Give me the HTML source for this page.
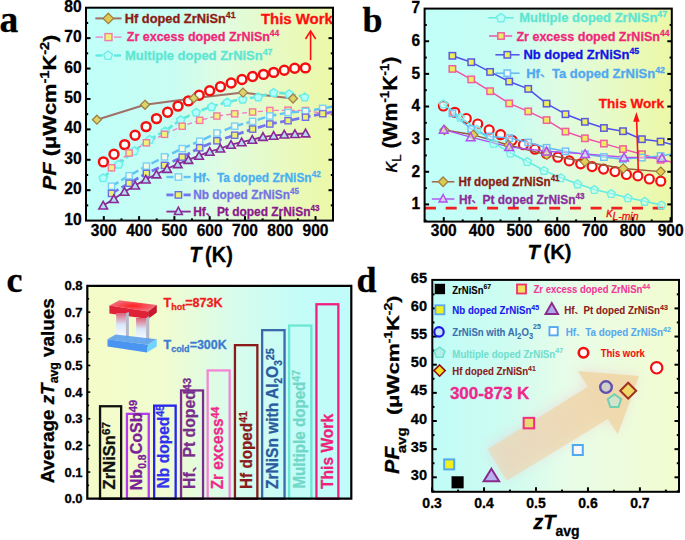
<!DOCTYPE html>
<html><head><meta charset="utf-8"><style>
html,body{margin:0;padding:0;background:#fff;width:685px;height:540px;overflow:hidden}
svg{display:block} text{white-space:pre}
</style></head><body>
<svg xml:space="preserve" width="685" height="540" viewBox="0 0 685 540">
<rect width="685" height="540" fill="#fff"/>
<defs>
<linearGradient id="ga" x1="0" x2="1" y1="0" y2="0"><stop offset="0" stop-color="#c0fff9"/><stop offset="0.35" stop-color="#c8fdf2"/><stop offset="0.55" stop-color="#e0fce2"/><stop offset="0.8" stop-color="#e8fac0"/><stop offset="1" stop-color="#ecf8a6"/></linearGradient>
<linearGradient id="gb" x1="0" x2="1" y1="0" y2="0"><stop offset="0" stop-color="#c0fff9"/><stop offset="0.35" stop-color="#c8fdf2"/><stop offset="0.55" stop-color="#e0fce2"/><stop offset="0.8" stop-color="#e8fac0"/><stop offset="1" stop-color="#ecf8a6"/></linearGradient>
<linearGradient id="gc" x1="0" x2="1" y1="0" y2="0"><stop offset="0" stop-color="#f4fcc8"/><stop offset="0.3" stop-color="#f0fcd0"/><stop offset="0.55" stop-color="#d8fcec"/><stop offset="0.8" stop-color="#c4fcf8"/><stop offset="1" stop-color="#c0fcfa"/></linearGradient>
<linearGradient id="gd" x1="0" x2="1" y1="0" y2="0"><stop offset="0" stop-color="#c0fcf8"/><stop offset="0.3" stop-color="#cefcf0"/><stop offset="0.55" stop-color="#e8fce8"/><stop offset="1" stop-color="#f2fcd0"/></linearGradient>
<linearGradient id="leg" x1="0" x2="0" y1="0" y2="1"><stop offset="0" stop-color="#e06078"/><stop offset="0.45" stop-color="#d8e8fa"/><stop offset="1" stop-color="#ffffff"/></linearGradient>
<radialGradient id="hot" cx="0.5" cy="0.5" r="0.5"><stop offset="0" stop-color="#ff2020"/><stop offset="1" stop-color="#f07080"/></radialGradient>
<linearGradient id="arw" gradientUnits="userSpaceOnUse" x1="497" y1="465" x2="625" y2="385"><stop offset="0" stop-color="#ecd6b0" stop-opacity="0.6"/><stop offset="1" stop-color="#f0d6a2" stop-opacity="0.85"/></linearGradient>
<filter id="soft" x="-5%" y="-5%" width="110%" height="110%"><feGaussianBlur stdDeviation="0.45"/></filter>
<filter id="blur" x="-20%" y="-20%" width="140%" height="140%"><feGaussianBlur stdDeviation="6"/></filter>
<clipPath id="ca"><rect x="86" y="7.7" width="247" height="212.9"/></clipPath>
<clipPath id="cb"><rect x="424.6" y="8.6" width="247.2" height="213"/></clipPath>
<clipPath id="cd"><rect x="432.3" y="279.9" width="246.7" height="211.9"/></clipPath>
</defs>
<rect x="86" y="7.7" width="247" height="212.9" fill="url(#ga)"/>
<line x1="86" y1="190.19" x2="90.5" y2="190.19" stroke="#000" stroke-width="2" />
<line x1="333" y1="190.19" x2="328.5" y2="190.19" stroke="#000" stroke-width="2" />
<line x1="86" y1="159.78" x2="90.5" y2="159.78" stroke="#000" stroke-width="2" />
<line x1="333" y1="159.78" x2="328.5" y2="159.78" stroke="#000" stroke-width="2" />
<line x1="86" y1="129.37" x2="90.5" y2="129.37" stroke="#000" stroke-width="2" />
<line x1="333" y1="129.37" x2="328.5" y2="129.37" stroke="#000" stroke-width="2" />
<line x1="86" y1="98.96" x2="90.5" y2="98.96" stroke="#000" stroke-width="2" />
<line x1="333" y1="98.96" x2="328.5" y2="98.96" stroke="#000" stroke-width="2" />
<line x1="86" y1="68.55" x2="90.5" y2="68.55" stroke="#000" stroke-width="2" />
<line x1="333" y1="68.55" x2="328.5" y2="68.55" stroke="#000" stroke-width="2" />
<line x1="86" y1="38.14" x2="90.5" y2="38.14" stroke="#000" stroke-width="2" />
<line x1="333" y1="38.14" x2="328.5" y2="38.14" stroke="#000" stroke-width="2" />
<line x1="86" y1="205.39" x2="88.2" y2="205.39" stroke="#000" stroke-width="2" />
<line x1="333" y1="205.39" x2="330.8" y2="205.39" stroke="#000" stroke-width="2" />
<line x1="86" y1="174.98" x2="88.2" y2="174.98" stroke="#000" stroke-width="2" />
<line x1="333" y1="174.98" x2="330.8" y2="174.98" stroke="#000" stroke-width="2" />
<line x1="86" y1="144.57" x2="88.2" y2="144.57" stroke="#000" stroke-width="2" />
<line x1="333" y1="144.57" x2="330.8" y2="144.57" stroke="#000" stroke-width="2" />
<line x1="86" y1="114.16" x2="88.2" y2="114.16" stroke="#000" stroke-width="2" />
<line x1="333" y1="114.16" x2="330.8" y2="114.16" stroke="#000" stroke-width="2" />
<line x1="86" y1="83.75" x2="88.2" y2="83.75" stroke="#000" stroke-width="2" />
<line x1="333" y1="83.75" x2="330.8" y2="83.75" stroke="#000" stroke-width="2" />
<line x1="86" y1="53.34" x2="88.2" y2="53.34" stroke="#000" stroke-width="2" />
<line x1="333" y1="53.34" x2="330.8" y2="53.34" stroke="#000" stroke-width="2" />
<line x1="86" y1="22.94" x2="88.2" y2="22.94" stroke="#000" stroke-width="2" />
<line x1="333" y1="22.94" x2="330.8" y2="22.94" stroke="#000" stroke-width="2" />
<line x1="103.8" y1="220.6" x2="103.8" y2="216.1" stroke="#000" stroke-width="2" />
<line x1="139.09" y1="220.6" x2="139.09" y2="216.1" stroke="#000" stroke-width="2" />
<line x1="174.38" y1="220.6" x2="174.38" y2="216.1" stroke="#000" stroke-width="2" />
<line x1="209.67" y1="220.6" x2="209.67" y2="216.1" stroke="#000" stroke-width="2" />
<line x1="244.96" y1="220.6" x2="244.96" y2="216.1" stroke="#000" stroke-width="2" />
<line x1="280.25" y1="220.6" x2="280.25" y2="216.1" stroke="#000" stroke-width="2" />
<line x1="315.54" y1="220.6" x2="315.54" y2="216.1" stroke="#000" stroke-width="2" />
<line x1="121.44" y1="220.6" x2="121.44" y2="218.4" stroke="#000" stroke-width="2" />
<line x1="156.74" y1="220.6" x2="156.74" y2="218.4" stroke="#000" stroke-width="2" />
<line x1="192.02" y1="220.6" x2="192.02" y2="218.4" stroke="#000" stroke-width="2" />
<line x1="227.31" y1="220.6" x2="227.31" y2="218.4" stroke="#000" stroke-width="2" />
<line x1="262.61" y1="220.6" x2="262.61" y2="218.4" stroke="#000" stroke-width="2" />
<line x1="297.89" y1="220.6" x2="297.89" y2="218.4" stroke="#000" stroke-width="2" />
<g clip-path="url(#ca)">
<polyline points="96.9,119.7 145,104.8 193.8,98.3 243,92.6 293,98.5" fill="none" stroke="#a07068" stroke-width="2" stroke-linejoin="round" />
<polyline points="103.2,205.5 113.85,199 124.5,191.7 135.15,185.4 145.8,179.4 156.45,174.3 167.1,168.8 177.75,164.1 188.4,159.8 199.05,155.7 209.7,151.7 220.35,148.5 231,144.7 241.65,142.2 252.3,139.7 262.95,136.8 273.6,135.7 284.25,134.5 294.9,134 305.55,133.3" fill="none" stroke="#8a2a96" stroke-width="1.8" stroke-linejoin="round" />
<polyline points="111.5,193.4 129.1,183.2 146.4,173.4 164.5,165.4 182.2,157.1 199.7,147.8 216.9,140.8 234.7,135.2 252.6,129.1 269.8,124 288,120.7 305.5,117.2 322.7,113.7 333,112" fill="none" stroke="#7474ee" stroke-width="2.8" stroke-linejoin="round" stroke-dasharray="8 3.5" />
<polyline points="111.5,186.2 129.1,175.7 146.4,166.1 164.5,156.9 182.2,148.6 199.7,141.2 216.9,133 234.7,126.2 252.6,121.4 269.8,116 288,112.5 305.5,111.4 322.7,108.4 333,106.5" fill="none" stroke="#62c4f4" stroke-width="2.4" stroke-linejoin="round" stroke-dasharray="8 3.5" />
<polyline points="111.5,167.8 129.1,153 146.4,142.8 164.5,134.3 182.2,126.2 199.7,120.3 216.9,116 234.7,113.8 252.6,112 269.8,110.5 288,110.2 305.5,110.6 322.7,113.2 333,114" fill="none" stroke="#f07cc0" stroke-width="1.3" stroke-linejoin="round" stroke-dasharray="5 3" />
<polyline points="103.2,177.7 118.7,164.1 134.2,150.8 149.7,139.4 165.2,130.9 180.7,119.8 196.2,112.2 211.7,106.5 227.2,102 242.7,99 258.2,96.9 273.7,92.4 289.2,93.8 304.7,96.9" fill="none" stroke="#5ee8e0" stroke-width="2.6" stroke-linejoin="round" stroke-dasharray="7 3" />
<circle cx="103.4" cy="161.9" r="4.45" fill="rgba(255,255,255,0.85)" stroke="#f41010" stroke-width="2.5"/>
<circle cx="114" cy="154.2" r="4.45" fill="rgba(255,255,255,0.85)" stroke="#f41010" stroke-width="2.5"/>
<circle cx="124.7" cy="144.6" r="4.45" fill="rgba(255,255,255,0.85)" stroke="#f41010" stroke-width="2.5"/>
<circle cx="135.1" cy="135.3" r="4.45" fill="rgba(255,255,255,0.85)" stroke="#f41010" stroke-width="2.5"/>
<circle cx="146.1" cy="126.6" r="4.45" fill="rgba(255,255,255,0.85)" stroke="#f41010" stroke-width="2.5"/>
<circle cx="156.5" cy="118.6" r="4.45" fill="rgba(255,255,255,0.85)" stroke="#f41010" stroke-width="2.5"/>
<circle cx="167.6" cy="112.2" r="4.45" fill="rgba(255,255,255,0.85)" stroke="#f41010" stroke-width="2.5"/>
<circle cx="178" cy="106.1" r="4.45" fill="rgba(255,255,255,0.85)" stroke="#f41010" stroke-width="2.5"/>
<circle cx="188.5" cy="100.9" r="4.45" fill="rgba(255,255,255,0.85)" stroke="#f41010" stroke-width="2.5"/>
<circle cx="199.2" cy="95.3" r="4.45" fill="rgba(255,255,255,0.85)" stroke="#f41010" stroke-width="2.5"/>
<circle cx="209.7" cy="90.8" r="4.45" fill="rgba(255,255,255,0.85)" stroke="#f41010" stroke-width="2.5"/>
<circle cx="220.5" cy="86.7" r="4.45" fill="rgba(255,255,255,0.85)" stroke="#f41010" stroke-width="2.5"/>
<circle cx="231.2" cy="83" r="4.45" fill="rgba(255,255,255,0.85)" stroke="#f41010" stroke-width="2.5"/>
<circle cx="242" cy="79.5" r="4.45" fill="rgba(255,255,255,0.85)" stroke="#f41010" stroke-width="2.5"/>
<circle cx="252.6" cy="76.5" r="4.45" fill="rgba(255,255,255,0.85)" stroke="#f41010" stroke-width="2.5"/>
<circle cx="263.5" cy="74.4" r="4.45" fill="rgba(255,255,255,0.85)" stroke="#f41010" stroke-width="2.5"/>
<circle cx="273.7" cy="72.4" r="4.45" fill="rgba(255,255,255,0.85)" stroke="#f41010" stroke-width="2.5"/>
<circle cx="284.3" cy="70.3" r="4.45" fill="rgba(255,255,255,0.85)" stroke="#f41010" stroke-width="2.5"/>
<circle cx="294.7" cy="68.3" r="4.45" fill="rgba(255,255,255,0.85)" stroke="#f41010" stroke-width="2.5"/>
<circle cx="305.4" cy="67.9" r="4.45" fill="rgba(255,255,255,0.85)" stroke="#f41010" stroke-width="2.5"/>
<polygon points="103.2,173.83 107.29,176.8 105.73,181.61 100.67,181.61 99.11,176.8" fill="#b4fffc" stroke="#6cf0e8" stroke-width="1.5"/>
<polygon points="118.7,160.23 122.79,163.2 121.23,168.01 116.17,168.01 114.61,163.2" fill="#b4fffc" stroke="#6cf0e8" stroke-width="1.5"/>
<polygon points="134.2,146.93 138.29,149.9 136.73,154.71 131.67,154.71 130.11,149.9" fill="#b4fffc" stroke="#6cf0e8" stroke-width="1.5"/>
<polygon points="149.7,135.53 153.79,138.5 152.23,143.31 147.17,143.31 145.61,138.5" fill="#b4fffc" stroke="#6cf0e8" stroke-width="1.5"/>
<polygon points="165.2,127.03 169.29,130 167.73,134.81 162.67,134.81 161.11,130" fill="#b4fffc" stroke="#6cf0e8" stroke-width="1.5"/>
<polygon points="180.7,115.93 184.79,118.9 183.23,123.71 178.17,123.71 176.61,118.9" fill="#b4fffc" stroke="#6cf0e8" stroke-width="1.5"/>
<polygon points="196.2,108.33 200.29,111.3 198.73,116.11 193.67,116.11 192.11,111.3" fill="#b4fffc" stroke="#6cf0e8" stroke-width="1.5"/>
<polygon points="211.7,102.63 215.79,105.6 214.23,110.41 209.17,110.41 207.61,105.6" fill="#b4fffc" stroke="#6cf0e8" stroke-width="1.5"/>
<polygon points="227.2,98.13 231.29,101.1 229.73,105.91 224.67,105.91 223.11,101.1" fill="#b4fffc" stroke="#6cf0e8" stroke-width="1.5"/>
<polygon points="242.7,95.13 246.79,98.1 245.23,102.91 240.17,102.91 238.61,98.1" fill="#b4fffc" stroke="#6cf0e8" stroke-width="1.5"/>
<polygon points="258.2,93.03 262.29,96 260.73,100.81 255.67,100.81 254.11,96" fill="#b4fffc" stroke="#6cf0e8" stroke-width="1.5"/>
<polygon points="273.7,88.53 277.79,91.5 276.23,96.31 271.17,96.31 269.61,91.5" fill="#b4fffc" stroke="#6cf0e8" stroke-width="1.5"/>
<polygon points="289.2,89.93 293.29,92.9 291.73,97.71 286.67,97.71 285.11,92.9" fill="#b4fffc" stroke="#6cf0e8" stroke-width="1.5"/>
<polygon points="304.7,93.03 308.79,96 307.23,100.81 302.17,100.81 300.61,96" fill="#b4fffc" stroke="#6cf0e8" stroke-width="1.5"/>
<rect x="108.4" y="164.7" width="6.2" height="6.2" fill="#f2f27a" stroke="#f27aa6" stroke-width="1.4"/>
<rect x="126" y="149.9" width="6.2" height="6.2" fill="#f2f27a" stroke="#f27aa6" stroke-width="1.4"/>
<rect x="143.3" y="139.7" width="6.2" height="6.2" fill="#f2f27a" stroke="#f27aa6" stroke-width="1.4"/>
<rect x="161.4" y="131.2" width="6.2" height="6.2" fill="#f2f27a" stroke="#f27aa6" stroke-width="1.4"/>
<rect x="179.1" y="123.1" width="6.2" height="6.2" fill="#f2f27a" stroke="#f27aa6" stroke-width="1.4"/>
<rect x="196.6" y="117.2" width="6.2" height="6.2" fill="#f2f27a" stroke="#f27aa6" stroke-width="1.4"/>
<rect x="213.8" y="112.9" width="6.2" height="6.2" fill="#f2f27a" stroke="#f27aa6" stroke-width="1.4"/>
<rect x="231.6" y="110.7" width="6.2" height="6.2" fill="#f2f27a" stroke="#f27aa6" stroke-width="1.4"/>
<rect x="249.5" y="108.9" width="6.2" height="6.2" fill="#f2f27a" stroke="#f27aa6" stroke-width="1.4"/>
<rect x="266.7" y="107.4" width="6.2" height="6.2" fill="#f2f27a" stroke="#f27aa6" stroke-width="1.4"/>
<rect x="284.9" y="107.1" width="6.2" height="6.2" fill="#f2f27a" stroke="#f27aa6" stroke-width="1.4"/>
<rect x="302.4" y="107.5" width="6.2" height="6.2" fill="#f2f27a" stroke="#f27aa6" stroke-width="1.4"/>
<rect x="319.6" y="110.1" width="6.2" height="6.2" fill="#f2f27a" stroke="#f27aa6" stroke-width="1.4"/>
<rect x="108.4" y="183.1" width="6.2" height="6.2" fill="#f2fbe8" stroke="#76d2f8" stroke-width="1.4"/>
<rect x="126" y="172.6" width="6.2" height="6.2" fill="#f2fbe8" stroke="#76d2f8" stroke-width="1.4"/>
<rect x="143.3" y="163" width="6.2" height="6.2" fill="#f2fbe8" stroke="#76d2f8" stroke-width="1.4"/>
<rect x="161.4" y="153.8" width="6.2" height="6.2" fill="#f2fbe8" stroke="#76d2f8" stroke-width="1.4"/>
<rect x="179.1" y="145.5" width="6.2" height="6.2" fill="#f2fbe8" stroke="#76d2f8" stroke-width="1.4"/>
<rect x="196.6" y="138.1" width="6.2" height="6.2" fill="#f2fbe8" stroke="#76d2f8" stroke-width="1.4"/>
<rect x="213.8" y="129.9" width="6.2" height="6.2" fill="#f2fbe8" stroke="#76d2f8" stroke-width="1.4"/>
<rect x="231.6" y="123.1" width="6.2" height="6.2" fill="#f2fbe8" stroke="#76d2f8" stroke-width="1.4"/>
<rect x="249.5" y="118.3" width="6.2" height="6.2" fill="#f2fbe8" stroke="#76d2f8" stroke-width="1.4"/>
<rect x="266.7" y="112.9" width="6.2" height="6.2" fill="#f2fbe8" stroke="#76d2f8" stroke-width="1.4"/>
<rect x="284.9" y="109.4" width="6.2" height="6.2" fill="#f2fbe8" stroke="#76d2f8" stroke-width="1.4"/>
<rect x="302.4" y="108.3" width="6.2" height="6.2" fill="#f2fbe8" stroke="#76d2f8" stroke-width="1.4"/>
<rect x="319.6" y="105.3" width="6.2" height="6.2" fill="#f2fbe8" stroke="#76d2f8" stroke-width="1.4"/>
<rect x="108.4" y="190.3" width="6.2" height="6.2" fill="#f0f070" stroke="#6e6ee4" stroke-width="1.4"/>
<rect x="126" y="180.1" width="6.2" height="6.2" fill="#f0f070" stroke="#6e6ee4" stroke-width="1.4"/>
<rect x="143.3" y="170.3" width="6.2" height="6.2" fill="#f0f070" stroke="#6e6ee4" stroke-width="1.4"/>
<rect x="161.4" y="162.3" width="6.2" height="6.2" fill="#f0f070" stroke="#6e6ee4" stroke-width="1.4"/>
<rect x="179.1" y="154" width="6.2" height="6.2" fill="#f0f070" stroke="#6e6ee4" stroke-width="1.4"/>
<rect x="196.6" y="144.7" width="6.2" height="6.2" fill="#f0f070" stroke="#6e6ee4" stroke-width="1.4"/>
<rect x="213.8" y="137.7" width="6.2" height="6.2" fill="#f0f070" stroke="#6e6ee4" stroke-width="1.4"/>
<rect x="231.6" y="132.1" width="6.2" height="6.2" fill="#f0f070" stroke="#6e6ee4" stroke-width="1.4"/>
<rect x="249.5" y="126" width="6.2" height="6.2" fill="#f0f070" stroke="#6e6ee4" stroke-width="1.4"/>
<rect x="266.7" y="120.9" width="6.2" height="6.2" fill="#f0f070" stroke="#6e6ee4" stroke-width="1.4"/>
<rect x="284.9" y="117.6" width="6.2" height="6.2" fill="#f0f070" stroke="#6e6ee4" stroke-width="1.4"/>
<rect x="302.4" y="114.1" width="6.2" height="6.2" fill="#f0f070" stroke="#6e6ee4" stroke-width="1.4"/>
<rect x="319.6" y="110.6" width="6.2" height="6.2" fill="#f0f070" stroke="#6e6ee4" stroke-width="1.4"/>
<path d="M103.2 201.44L107.5 209.04L98.9 209.04Z" fill="#b4dcf2" stroke="#8a2a96" stroke-width="1.6" stroke-linejoin="miter"/>
<path d="M113.85 194.94L118.15 202.54L109.55 202.54Z" fill="#b4dcf2" stroke="#8a2a96" stroke-width="1.6" stroke-linejoin="miter"/>
<path d="M124.5 187.64L128.8 195.24L120.2 195.24Z" fill="#b4dcf2" stroke="#8a2a96" stroke-width="1.6" stroke-linejoin="miter"/>
<path d="M135.15 181.34L139.45 188.94L130.85 188.94Z" fill="#b4dcf2" stroke="#8a2a96" stroke-width="1.6" stroke-linejoin="miter"/>
<path d="M145.8 175.34L150.1 182.94L141.5 182.94Z" fill="#b4dcf2" stroke="#8a2a96" stroke-width="1.6" stroke-linejoin="miter"/>
<path d="M156.45 170.24L160.75 177.84L152.15 177.84Z" fill="#b4dcf2" stroke="#8a2a96" stroke-width="1.6" stroke-linejoin="miter"/>
<path d="M167.1 164.74L171.4 172.34L162.8 172.34Z" fill="#b4dcf2" stroke="#8a2a96" stroke-width="1.6" stroke-linejoin="miter"/>
<path d="M177.75 160.04L182.05 167.64L173.45 167.64Z" fill="#b4dcf2" stroke="#8a2a96" stroke-width="1.6" stroke-linejoin="miter"/>
<path d="M188.4 155.74L192.7 163.34L184.1 163.34Z" fill="#b4dcf2" stroke="#8a2a96" stroke-width="1.6" stroke-linejoin="miter"/>
<path d="M199.05 151.64L203.35 159.24L194.75 159.24Z" fill="#b4dcf2" stroke="#8a2a96" stroke-width="1.6" stroke-linejoin="miter"/>
<path d="M209.7 147.64L214 155.24L205.4 155.24Z" fill="#b4dcf2" stroke="#8a2a96" stroke-width="1.6" stroke-linejoin="miter"/>
<path d="M220.35 144.44L224.65 152.04L216.05 152.04Z" fill="#b4dcf2" stroke="#8a2a96" stroke-width="1.6" stroke-linejoin="miter"/>
<path d="M231 140.64L235.3 148.24L226.7 148.24Z" fill="#b4dcf2" stroke="#8a2a96" stroke-width="1.6" stroke-linejoin="miter"/>
<path d="M241.65 138.14L245.95 145.74L237.35 145.74Z" fill="#b4dcf2" stroke="#8a2a96" stroke-width="1.6" stroke-linejoin="miter"/>
<path d="M252.3 135.64L256.6 143.24L248 143.24Z" fill="#b4dcf2" stroke="#8a2a96" stroke-width="1.6" stroke-linejoin="miter"/>
<path d="M262.95 132.74L267.25 140.34L258.65 140.34Z" fill="#b4dcf2" stroke="#8a2a96" stroke-width="1.6" stroke-linejoin="miter"/>
<path d="M273.6 131.64L277.9 139.24L269.3 139.24Z" fill="#b4dcf2" stroke="#8a2a96" stroke-width="1.6" stroke-linejoin="miter"/>
<path d="M284.25 130.44L288.55 138.04L279.95 138.04Z" fill="#b4dcf2" stroke="#8a2a96" stroke-width="1.6" stroke-linejoin="miter"/>
<path d="M294.9 129.94L299.2 137.54L290.6 137.54Z" fill="#b4dcf2" stroke="#8a2a96" stroke-width="1.6" stroke-linejoin="miter"/>
<path d="M305.55 129.24L309.85 136.84L301.25 136.84Z" fill="#b4dcf2" stroke="#8a2a96" stroke-width="1.6" stroke-linejoin="miter"/>
<path d="M96.9 115.2L101.4 119.7L96.9 124.2L92.4 119.7Z" fill="#dcd468" stroke="#a08048" stroke-width="1.3"/>
<path d="M145 100.3L149.5 104.8L145 109.3L140.5 104.8Z" fill="#dcd468" stroke="#a08048" stroke-width="1.3"/>
<path d="M193.8 93.8L198.3 98.3L193.8 102.8L189.3 98.3Z" fill="#dcd468" stroke="#a08048" stroke-width="1.3"/>
<path d="M243 88.1L247.5 92.6L243 97.1L238.5 92.6Z" fill="#dcd468" stroke="#a08048" stroke-width="1.3"/>
<path d="M293 94L297.5 98.5L293 103L288.5 98.5Z" fill="#dcd468" stroke="#a08048" stroke-width="1.3"/>
</g>
<line x1="95.3" y1="18.4" x2="121.5" y2="18.4" stroke="#a07068" stroke-width="2" />
<path d="M108.3 13.2L113.5 18.4L108.3 23.6L103.1 18.4Z" fill="#dccb50" stroke="#a08040" stroke-width="1.3"/>
<line x1="95.5" y1="37.1" x2="103" y2="37.1" stroke="#f07cc0" stroke-width="1.3" />
<line x1="114" y1="37.1" x2="121.5" y2="37.1" stroke="#f07cc0" stroke-width="1.3" />
<rect x="105" y="33.6" width="7" height="7" fill="#f2f27a" stroke="#f27aa6" stroke-width="1.4"/>
<line x1="95.5" y1="55.5" x2="102.5" y2="55.5" stroke="#5ee8e0" stroke-width="2.3" />
<line x1="114" y1="55.5" x2="121" y2="55.5" stroke="#5ee8e0" stroke-width="2.3" />
<polygon points="108.1,51.06 112.47,54.24 110.8,59.38 105.4,59.38 103.73,54.24" fill="#bcfff8" stroke="#66eee6" stroke-width="1.3"/>
<line x1="166.4" y1="177" x2="173.5" y2="177" stroke="#62c4f4" stroke-width="2.4" />
<line x1="183.5" y1="177" x2="190.7" y2="177" stroke="#62c4f4" stroke-width="2.4" />
<rect x="175.2" y="173.8" width="6.4" height="6.4" fill="#f2fbe8" stroke="#76d2f8" stroke-width="1.4"/>
<line x1="166.4" y1="194.9" x2="173.5" y2="194.9" stroke="#7474ee" stroke-width="2.8" />
<line x1="183.5" y1="194.9" x2="190.7" y2="194.9" stroke="#7474ee" stroke-width="2.8" />
<rect x="175.2" y="191.7" width="6.4" height="6.4" fill="#f0f070" stroke="#6e6ee4" stroke-width="1.4"/>
<line x1="166.4" y1="211.6" x2="190.7" y2="211.6" stroke="#8a2a96" stroke-width="1.8" />
<path d="M178.4 207.1L182.4 214.6L174.4 214.6Z" fill="#b4dcf2" stroke="#8a2a96" stroke-width="1.5" stroke-linejoin="miter"/>
<text x="124.8" y="22.8" font-family='"Liberation Sans", sans-serif' font-size="13" font-weight="bold" fill="#8b1c14" textLength="110.7" lengthAdjust="spacingAndGlyphs" stroke="#8b1c14" stroke-width="0.3">Hf doped ZrNiSn<tspan font-size="8.84" dy="-4.94">41</tspan></text>
<text x="126.8" y="41.3" font-family='"Liberation Sans", sans-serif' font-size="13.4" font-weight="bold" fill="#f0287a" textLength="152.5" lengthAdjust="spacingAndGlyphs" stroke="#f0287a" stroke-width="0.3">Zr excess doped ZrNiSn<tspan font-size="9.11" dy="-5.09">44</tspan></text>
<text x="125" y="59.7" font-family='"Liberation Sans", sans-serif' font-size="13" font-weight="bold" fill="#5ee6d2" textLength="147.5" lengthAdjust="spacingAndGlyphs" stroke="#5ee6d2" stroke-width="0.3">Multiple doped ZrNiSn<tspan font-size="8.84" dy="-4.94">47</tspan></text>
<text x="193.2" y="181.5" font-family='"Liberation Sans", sans-serif' font-size="13" font-weight="bold" fill="#4ab0f0" textLength="127.5" lengthAdjust="spacingAndGlyphs" stroke="#4ab0f0" stroke-width="0.3">Hf<tspan font-size="14.5" dy="8.6">`</tspan><tspan dy="-8.6">  Ta doped ZrNiSn</tspan><tspan font-size="8.84" dy="-4.94">42</tspan></text>
<text x="193.2" y="199.4" font-family='"Liberation Sans", sans-serif' font-size="13" font-weight="bold" fill="#7474e4" textLength="105.8" lengthAdjust="spacingAndGlyphs" stroke="#7474e4" stroke-width="0.3">Nb doped ZrNiSn<tspan font-size="8.84" dy="-4.94">45</tspan></text>
<text x="193.2" y="216.2" font-family='"Liberation Sans", sans-serif' font-size="13" font-weight="bold" fill="#8b1a8b" textLength="126.3" lengthAdjust="spacingAndGlyphs" stroke="#8b1a8b" stroke-width="0.3">Hf<tspan font-size="14.5" dy="8.6">`</tspan><tspan dy="-8.6">  Pt doped ZrNiSn</tspan><tspan font-size="8.84" dy="-4.94">43</tspan></text>
<text x="260.9" y="24" font-family='"Liberation Sans", sans-serif' font-size="14.5" font-weight="bold" fill="#ff1010" textLength="72" lengthAdjust="spacingAndGlyphs"  stroke="#ff1010" stroke-width="0.3">This Work</text>
<line x1="310.6" y1="60.2" x2="310.6" y2="32" stroke="#ff1010" stroke-width="1.6" />
<path d="M305.5 39 L310.6 31 L315.7 39" fill="none" stroke="#ff1010" stroke-width="1.6"/>
<rect x="86" y="7.7" width="247" height="212.9" fill="none" stroke="#000" stroke-width="2"/>
<text x="81.6" y="224.7" font-family='"Liberation Sans", sans-serif' font-size="16.6" font-weight="bold" fill="#000" text-anchor="end" textLength="17.4" lengthAdjust="spacingAndGlyphs"  stroke="#000" stroke-width="0.3">10</text>
<text x="81.6" y="194.29" font-family='"Liberation Sans", sans-serif' font-size="16.6" font-weight="bold" fill="#000" text-anchor="end" textLength="17.4" lengthAdjust="spacingAndGlyphs"  stroke="#000" stroke-width="0.3">20</text>
<text x="81.6" y="163.88" font-family='"Liberation Sans", sans-serif' font-size="16.6" font-weight="bold" fill="#000" text-anchor="end" textLength="17.4" lengthAdjust="spacingAndGlyphs"  stroke="#000" stroke-width="0.3">30</text>
<text x="81.6" y="133.47" font-family='"Liberation Sans", sans-serif' font-size="16.6" font-weight="bold" fill="#000" text-anchor="end" textLength="17.4" lengthAdjust="spacingAndGlyphs"  stroke="#000" stroke-width="0.3">40</text>
<text x="81.6" y="103.06" font-family='"Liberation Sans", sans-serif' font-size="16.6" font-weight="bold" fill="#000" text-anchor="end" textLength="17.4" lengthAdjust="spacingAndGlyphs"  stroke="#000" stroke-width="0.3">50</text>
<text x="81.6" y="72.65" font-family='"Liberation Sans", sans-serif' font-size="16.6" font-weight="bold" fill="#000" text-anchor="end" textLength="17.4" lengthAdjust="spacingAndGlyphs"  stroke="#000" stroke-width="0.3">60</text>
<text x="81.6" y="42.24" font-family='"Liberation Sans", sans-serif' font-size="16.6" font-weight="bold" fill="#000" text-anchor="end" textLength="17.4" lengthAdjust="spacingAndGlyphs"  stroke="#000" stroke-width="0.3">70</text>
<text x="81.6" y="11.83" font-family='"Liberation Sans", sans-serif' font-size="16.6" font-weight="bold" fill="#000" text-anchor="end" textLength="17.4" lengthAdjust="spacingAndGlyphs"  stroke="#000" stroke-width="0.3">80</text>
<text x="103.8" y="235.9" font-family='"Liberation Sans", sans-serif' font-size="16.6" font-weight="bold" fill="#000" text-anchor="middle" textLength="25.9" lengthAdjust="spacingAndGlyphs"  stroke="#000" stroke-width="0.3">300</text>
<text x="139.09" y="235.9" font-family='"Liberation Sans", sans-serif' font-size="16.6" font-weight="bold" fill="#000" text-anchor="middle" textLength="25.9" lengthAdjust="spacingAndGlyphs"  stroke="#000" stroke-width="0.3">400</text>
<text x="174.38" y="235.9" font-family='"Liberation Sans", sans-serif' font-size="16.6" font-weight="bold" fill="#000" text-anchor="middle" textLength="25.9" lengthAdjust="spacingAndGlyphs"  stroke="#000" stroke-width="0.3">500</text>
<text x="209.67" y="235.9" font-family='"Liberation Sans", sans-serif' font-size="16.6" font-weight="bold" fill="#000" text-anchor="middle" textLength="25.9" lengthAdjust="spacingAndGlyphs"  stroke="#000" stroke-width="0.3">600</text>
<text x="244.96" y="235.9" font-family='"Liberation Sans", sans-serif' font-size="16.6" font-weight="bold" fill="#000" text-anchor="middle" textLength="25.9" lengthAdjust="spacingAndGlyphs"  stroke="#000" stroke-width="0.3">700</text>
<text x="280.25" y="235.9" font-family='"Liberation Sans", sans-serif' font-size="16.6" font-weight="bold" fill="#000" text-anchor="middle" textLength="25.9" lengthAdjust="spacingAndGlyphs"  stroke="#000" stroke-width="0.3">800</text>
<text x="315.54" y="235.9" font-family='"Liberation Sans", sans-serif' font-size="16.6" font-weight="bold" fill="#000" text-anchor="middle" textLength="25.9" lengthAdjust="spacingAndGlyphs"  stroke="#000" stroke-width="0.3">900</text>
<text x="189.2" y="262.3" font-family='"Liberation Sans", sans-serif' font-size="21.5" font-weight="bold" textLength="43.6" lengthAdjust="spacingAndGlyphs" stroke="#000" stroke-width="0.3"><tspan font-style="italic">T</tspan><tspan dx="-2"> (K)</tspan></text>
<g transform="translate(55.5,190.3) rotate(-90)"><text x="0" y="0" font-family='"Liberation Sans", sans-serif' font-size="18" font-weight="bold" textLength="155.7" lengthAdjust="spacingAndGlyphs" stroke="#000" stroke-width="0.3"><tspan font-style="italic">PF</tspan> (μWcm<tspan font-size="12" dy="-7">-1</tspan><tspan dy="7">K</tspan><tspan font-size="12" dy="-7">-2</tspan><tspan dy="7">)</tspan></text></g>
<text x="-0.4" y="31.8" font-family='"Liberation Serif", serif' font-size="37.5" font-weight="bold" fill="#000"  stroke="#000" stroke-width="0.3">a</text>
<rect x="424.6" y="8.6" width="247.19999999999993" height="213.0" fill="url(#gb)"/>
<line x1="424.6" y1="204.4" x2="429.1" y2="204.4" stroke="#000" stroke-width="2" />
<line x1="671.8" y1="204.4" x2="667.3" y2="204.4" stroke="#000" stroke-width="2" />
<line x1="424.6" y1="171.77" x2="429.1" y2="171.77" stroke="#000" stroke-width="2" />
<line x1="671.8" y1="171.77" x2="667.3" y2="171.77" stroke="#000" stroke-width="2" />
<line x1="424.6" y1="139.14" x2="429.1" y2="139.14" stroke="#000" stroke-width="2" />
<line x1="671.8" y1="139.14" x2="667.3" y2="139.14" stroke="#000" stroke-width="2" />
<line x1="424.6" y1="106.51" x2="429.1" y2="106.51" stroke="#000" stroke-width="2" />
<line x1="671.8" y1="106.51" x2="667.3" y2="106.51" stroke="#000" stroke-width="2" />
<line x1="424.6" y1="73.88" x2="429.1" y2="73.88" stroke="#000" stroke-width="2" />
<line x1="671.8" y1="73.88" x2="667.3" y2="73.88" stroke="#000" stroke-width="2" />
<line x1="424.6" y1="41.25" x2="429.1" y2="41.25" stroke="#000" stroke-width="2" />
<line x1="671.8" y1="41.25" x2="667.3" y2="41.25" stroke="#000" stroke-width="2" />
<line x1="424.6" y1="220.72" x2="426.8" y2="220.72" stroke="#000" stroke-width="2" />
<line x1="671.8" y1="220.72" x2="669.6" y2="220.72" stroke="#000" stroke-width="2" />
<line x1="424.6" y1="188.09" x2="426.8" y2="188.09" stroke="#000" stroke-width="2" />
<line x1="671.8" y1="188.09" x2="669.6" y2="188.09" stroke="#000" stroke-width="2" />
<line x1="424.6" y1="155.45" x2="426.8" y2="155.45" stroke="#000" stroke-width="2" />
<line x1="671.8" y1="155.45" x2="669.6" y2="155.45" stroke="#000" stroke-width="2" />
<line x1="424.6" y1="122.83" x2="426.8" y2="122.83" stroke="#000" stroke-width="2" />
<line x1="671.8" y1="122.83" x2="669.6" y2="122.83" stroke="#000" stroke-width="2" />
<line x1="424.6" y1="90.19" x2="426.8" y2="90.19" stroke="#000" stroke-width="2" />
<line x1="671.8" y1="90.19" x2="669.6" y2="90.19" stroke="#000" stroke-width="2" />
<line x1="424.6" y1="57.56" x2="426.8" y2="57.56" stroke="#000" stroke-width="2" />
<line x1="671.8" y1="57.56" x2="669.6" y2="57.56" stroke="#000" stroke-width="2" />
<line x1="424.6" y1="24.94" x2="426.8" y2="24.94" stroke="#000" stroke-width="2" />
<line x1="671.8" y1="24.94" x2="669.6" y2="24.94" stroke="#000" stroke-width="2" />
<line x1="443.8" y1="221.6" x2="443.8" y2="217.1" stroke="#000" stroke-width="2" />
<line x1="481.6" y1="221.6" x2="481.6" y2="217.1" stroke="#000" stroke-width="2" />
<line x1="519.4" y1="221.6" x2="519.4" y2="217.1" stroke="#000" stroke-width="2" />
<line x1="557.2" y1="221.6" x2="557.2" y2="217.1" stroke="#000" stroke-width="2" />
<line x1="595" y1="221.6" x2="595" y2="217.1" stroke="#000" stroke-width="2" />
<line x1="632.8" y1="221.6" x2="632.8" y2="217.1" stroke="#000" stroke-width="2" />
<line x1="670.6" y1="221.6" x2="670.6" y2="217.1" stroke="#000" stroke-width="2" />
<line x1="424.9" y1="221.6" x2="424.9" y2="219.4" stroke="#000" stroke-width="2" />
<line x1="462.7" y1="221.6" x2="462.7" y2="219.4" stroke="#000" stroke-width="2" />
<line x1="500.5" y1="221.6" x2="500.5" y2="219.4" stroke="#000" stroke-width="2" />
<line x1="538.3" y1="221.6" x2="538.3" y2="219.4" stroke="#000" stroke-width="2" />
<line x1="576.1" y1="221.6" x2="576.1" y2="219.4" stroke="#000" stroke-width="2" />
<line x1="613.9" y1="221.6" x2="613.9" y2="219.4" stroke="#000" stroke-width="2" />
<line x1="651.7" y1="221.6" x2="651.7" y2="219.4" stroke="#000" stroke-width="2" />
<g clip-path="url(#cb)">
<line x1="425" y1="208.1" x2="672" y2="208.1" stroke="#f02020" stroke-width="2.6" stroke-dasharray="11 9.7"/>
<circle cx="443.4" cy="106" r="4.5" fill="#ffffff" stroke="#f41010" stroke-width="2.2"/>
<circle cx="454.84" cy="112.3" r="4.5" fill="#ffffff" stroke="#f41010" stroke-width="2.2"/>
<circle cx="466.28" cy="118.5" r="4.5" fill="#ffffff" stroke="#f41010" stroke-width="2.2"/>
<circle cx="477.72" cy="124" r="4.5" fill="#ffffff" stroke="#f41010" stroke-width="2.2"/>
<circle cx="489.16" cy="129.9" r="4.5" fill="#ffffff" stroke="#f41010" stroke-width="2.2"/>
<circle cx="500.6" cy="134.7" r="4.5" fill="#ffffff" stroke="#f41010" stroke-width="2.2"/>
<circle cx="512.04" cy="140.3" r="4.5" fill="#ffffff" stroke="#f41010" stroke-width="2.2"/>
<circle cx="523.48" cy="144.7" r="4.5" fill="#ffffff" stroke="#f41010" stroke-width="2.2"/>
<circle cx="534.92" cy="149.2" r="4.5" fill="#ffffff" stroke="#f41010" stroke-width="2.2"/>
<circle cx="546.36" cy="153.6" r="4.5" fill="#ffffff" stroke="#f41010" stroke-width="2.2"/>
<circle cx="557.8" cy="157.2" r="4.5" fill="#ffffff" stroke="#f41010" stroke-width="2.2"/>
<circle cx="569.24" cy="160.9" r="4.5" fill="#ffffff" stroke="#f41010" stroke-width="2.2"/>
<circle cx="580.68" cy="163.8" r="4.5" fill="#ffffff" stroke="#f41010" stroke-width="2.2"/>
<circle cx="592.12" cy="166.6" r="4.5" fill="#ffffff" stroke="#f41010" stroke-width="2.2"/>
<circle cx="603.56" cy="169.1" r="4.5" fill="#ffffff" stroke="#f41010" stroke-width="2.2"/>
<circle cx="615" cy="171.6" r="4.5" fill="#ffffff" stroke="#f41010" stroke-width="2.2"/>
<circle cx="626.44" cy="174.5" r="4.5" fill="#ffffff" stroke="#f41010" stroke-width="2.2"/>
<circle cx="637.88" cy="175.9" r="4.5" fill="#ffffff" stroke="#f41010" stroke-width="2.2"/>
<circle cx="649.32" cy="179" r="4.5" fill="#ffffff" stroke="#f41010" stroke-width="2.2"/>
<circle cx="660.76" cy="181.2" r="4.5" fill="#ffffff" stroke="#f41010" stroke-width="2.2"/>
<polyline points="443.4,103.8 460.17,117.2 476.94,129.3 493.71,143.2 510.48,153 527.25,161.5 544.02,170.4 560.79,177.7 577.56,183.8 594.33,189.5 611.1,193.5 627.87,197.7 644.64,201.3 661.41,204.9" fill="none" stroke="#60ece4" stroke-width="1.5" stroke-linejoin="round" />
<polyline points="452.4,68.9 471.2,79.4 490.1,91.2 509.2,103.4 528.2,111.4 546.6,120.1 565.5,131.6 584.9,138.3 603.9,143.6 623,149.1 641.9,154.2 660.6,159.8 672,162" fill="none" stroke="#f050a8" stroke-width="1.5" stroke-linejoin="round" />
<polyline points="452.4,55.8 471.2,62.2 490.1,71.9 509.2,81.5 528.2,88.9 546.6,103.6 565.5,114.2 584.9,121.8 603.9,128 623,131.2 641.9,139.2 660.6,141.6 672,144.4" fill="none" stroke="#5050ec" stroke-width="1.5" stroke-linejoin="round" />
<polyline points="452.4,113.3 471.2,129 490.1,136.4 509.2,138.1 528.2,142.5 546.6,147.8 565.5,151.3 584.9,154.3 603.9,157.1 623,159.2 641.9,157.6 660.6,156.1 672,154" fill="none" stroke="#60b8f4" stroke-width="1.5" stroke-linejoin="round" />
<polyline points="444.4,130 473.3,134.8 508.5,145 546.7,154.8 584.9,161.7 623.3,168.5 660.7,171.6" fill="none" stroke="#9a5a40" stroke-width="1.4" stroke-linejoin="round" />
<polyline points="443.7,129.6 470.7,137.1 509.2,146.9 546.6,151.3 585.1,153.9 624.1,157.3 662,158" fill="none" stroke="#b050f0" stroke-width="1.4" stroke-linejoin="round" />
<polygon points="443.4,99.93 447.49,102.9 445.93,107.71 440.87,107.71 439.31,102.9" fill="rgba(190,255,248,0.45)" stroke="#6ef0e6" stroke-width="1.4"/>
<polygon points="460.17,113.33 464.26,116.3 462.7,121.11 457.64,121.11 456.08,116.3" fill="rgba(190,255,248,0.45)" stroke="#6ef0e6" stroke-width="1.4"/>
<polygon points="476.94,125.43 481.03,128.4 479.47,133.21 474.41,133.21 472.85,128.4" fill="rgba(190,255,248,0.45)" stroke="#6ef0e6" stroke-width="1.4"/>
<polygon points="493.71,139.33 497.8,142.3 496.24,147.11 491.18,147.11 489.62,142.3" fill="rgba(190,255,248,0.45)" stroke="#6ef0e6" stroke-width="1.4"/>
<polygon points="510.48,149.13 514.57,152.1 513.01,156.91 507.95,156.91 506.39,152.1" fill="rgba(190,255,248,0.45)" stroke="#6ef0e6" stroke-width="1.4"/>
<polygon points="527.25,157.63 531.34,160.6 529.78,165.41 524.72,165.41 523.16,160.6" fill="rgba(190,255,248,0.45)" stroke="#6ef0e6" stroke-width="1.4"/>
<polygon points="544.02,166.53 548.11,169.5 546.55,174.31 541.49,174.31 539.93,169.5" fill="rgba(190,255,248,0.45)" stroke="#6ef0e6" stroke-width="1.4"/>
<polygon points="560.79,173.83 564.88,176.8 563.32,181.61 558.26,181.61 556.7,176.8" fill="rgba(190,255,248,0.45)" stroke="#6ef0e6" stroke-width="1.4"/>
<polygon points="577.56,179.93 581.65,182.9 580.09,187.71 575.03,187.71 573.47,182.9" fill="rgba(190,255,248,0.45)" stroke="#6ef0e6" stroke-width="1.4"/>
<polygon points="594.33,185.63 598.42,188.6 596.86,193.41 591.8,193.41 590.24,188.6" fill="rgba(190,255,248,0.45)" stroke="#6ef0e6" stroke-width="1.4"/>
<polygon points="611.1,189.63 615.19,192.6 613.63,197.41 608.57,197.41 607.01,192.6" fill="rgba(190,255,248,0.45)" stroke="#6ef0e6" stroke-width="1.4"/>
<polygon points="627.87,193.83 631.96,196.8 630.4,201.61 625.34,201.61 623.78,196.8" fill="rgba(190,255,248,0.45)" stroke="#6ef0e6" stroke-width="1.4"/>
<polygon points="644.64,197.43 648.73,200.4 647.17,205.21 642.11,205.21 640.55,200.4" fill="rgba(190,255,248,0.45)" stroke="#6ef0e6" stroke-width="1.4"/>
<polygon points="661.41,201.03 665.5,204 663.94,208.81 658.88,208.81 657.32,204" fill="rgba(190,255,248,0.45)" stroke="#6ef0e6" stroke-width="1.4"/>
<rect x="449.2" y="65.7" width="6.4" height="6.4" fill="#eeee60" stroke="#f060a0" stroke-width="1.5"/>
<rect x="468" y="76.2" width="6.4" height="6.4" fill="#eeee60" stroke="#f060a0" stroke-width="1.5"/>
<rect x="486.9" y="88" width="6.4" height="6.4" fill="#eeee60" stroke="#f060a0" stroke-width="1.5"/>
<rect x="506" y="100.2" width="6.4" height="6.4" fill="#eeee60" stroke="#f060a0" stroke-width="1.5"/>
<rect x="525" y="108.2" width="6.4" height="6.4" fill="#eeee60" stroke="#f060a0" stroke-width="1.5"/>
<rect x="543.4" y="116.9" width="6.4" height="6.4" fill="#eeee60" stroke="#f060a0" stroke-width="1.5"/>
<rect x="562.3" y="128.4" width="6.4" height="6.4" fill="#eeee60" stroke="#f060a0" stroke-width="1.5"/>
<rect x="581.7" y="135.1" width="6.4" height="6.4" fill="#eeee60" stroke="#f060a0" stroke-width="1.5"/>
<rect x="600.7" y="140.4" width="6.4" height="6.4" fill="#eeee60" stroke="#f060a0" stroke-width="1.5"/>
<rect x="619.8" y="145.9" width="6.4" height="6.4" fill="#eeee60" stroke="#f060a0" stroke-width="1.5"/>
<rect x="638.7" y="151" width="6.4" height="6.4" fill="#eeee60" stroke="#f060a0" stroke-width="1.5"/>
<rect x="657.4" y="156.6" width="6.4" height="6.4" fill="#eeee60" stroke="#f060a0" stroke-width="1.5"/>
<rect x="449.2" y="52.6" width="6.4" height="6.4" fill="#eeee60" stroke="#5a5ae0" stroke-width="1.5"/>
<rect x="468" y="59" width="6.4" height="6.4" fill="#eeee60" stroke="#5a5ae0" stroke-width="1.5"/>
<rect x="486.9" y="68.7" width="6.4" height="6.4" fill="#eeee60" stroke="#5a5ae0" stroke-width="1.5"/>
<rect x="506" y="78.3" width="6.4" height="6.4" fill="#eeee60" stroke="#5a5ae0" stroke-width="1.5"/>
<rect x="525" y="85.7" width="6.4" height="6.4" fill="#eeee60" stroke="#5a5ae0" stroke-width="1.5"/>
<rect x="543.4" y="100.4" width="6.4" height="6.4" fill="#eeee60" stroke="#5a5ae0" stroke-width="1.5"/>
<rect x="562.3" y="111" width="6.4" height="6.4" fill="#eeee60" stroke="#5a5ae0" stroke-width="1.5"/>
<rect x="581.7" y="118.6" width="6.4" height="6.4" fill="#eeee60" stroke="#5a5ae0" stroke-width="1.5"/>
<rect x="600.7" y="124.8" width="6.4" height="6.4" fill="#eeee60" stroke="#5a5ae0" stroke-width="1.5"/>
<rect x="619.8" y="128" width="6.4" height="6.4" fill="#eeee60" stroke="#5a5ae0" stroke-width="1.5"/>
<rect x="638.7" y="136" width="6.4" height="6.4" fill="#eeee60" stroke="#5a5ae0" stroke-width="1.5"/>
<rect x="657.4" y="138.4" width="6.4" height="6.4" fill="#eeee60" stroke="#5a5ae0" stroke-width="1.5"/>
<rect x="449.2" y="110.1" width="6.4" height="6.4" fill="rgba(238,246,255,0.45)" stroke="#6cc0f6" stroke-width="1.4"/>
<rect x="468" y="125.8" width="6.4" height="6.4" fill="rgba(238,246,255,0.45)" stroke="#6cc0f6" stroke-width="1.4"/>
<rect x="486.9" y="133.2" width="6.4" height="6.4" fill="rgba(238,246,255,0.45)" stroke="#6cc0f6" stroke-width="1.4"/>
<rect x="506" y="134.9" width="6.4" height="6.4" fill="rgba(238,246,255,0.45)" stroke="#6cc0f6" stroke-width="1.4"/>
<rect x="525" y="139.3" width="6.4" height="6.4" fill="rgba(238,246,255,0.45)" stroke="#6cc0f6" stroke-width="1.4"/>
<rect x="543.4" y="144.6" width="6.4" height="6.4" fill="rgba(238,246,255,0.45)" stroke="#6cc0f6" stroke-width="1.4"/>
<rect x="562.3" y="148.1" width="6.4" height="6.4" fill="rgba(238,246,255,0.45)" stroke="#6cc0f6" stroke-width="1.4"/>
<rect x="581.7" y="151.1" width="6.4" height="6.4" fill="rgba(238,246,255,0.45)" stroke="#6cc0f6" stroke-width="1.4"/>
<rect x="600.7" y="153.9" width="6.4" height="6.4" fill="rgba(238,246,255,0.45)" stroke="#6cc0f6" stroke-width="1.4"/>
<rect x="619.8" y="156" width="6.4" height="6.4" fill="rgba(238,246,255,0.45)" stroke="#6cc0f6" stroke-width="1.4"/>
<rect x="638.7" y="154.4" width="6.4" height="6.4" fill="rgba(238,246,255,0.45)" stroke="#6cc0f6" stroke-width="1.4"/>
<rect x="657.4" y="152.9" width="6.4" height="6.4" fill="rgba(238,246,255,0.45)" stroke="#6cc0f6" stroke-width="1.4"/>
<path d="M444.4 125.4L449 130L444.4 134.6L439.8 130Z" fill="#e0d058" stroke="#a07838" stroke-width="1.1"/>
<path d="M473.3 130.2L477.9 134.8L473.3 139.4L468.7 134.8Z" fill="#e0d058" stroke="#a07838" stroke-width="1.1"/>
<path d="M508.5 140.4L513.1 145L508.5 149.6L503.9 145Z" fill="#e0d058" stroke="#a07838" stroke-width="1.1"/>
<path d="M546.7 150.2L551.3 154.8L546.7 159.4L542.1 154.8Z" fill="#e0d058" stroke="#a07838" stroke-width="1.1"/>
<path d="M584.9 157.1L589.5 161.7L584.9 166.3L580.3 161.7Z" fill="#e0d058" stroke="#a07838" stroke-width="1.1"/>
<path d="M623.3 163.9L627.9 168.5L623.3 173.1L618.7 168.5Z" fill="#e0d058" stroke="#a07838" stroke-width="1.1"/>
<path d="M660.7 167L665.3 171.6L660.7 176.2L656.1 171.6Z" fill="#e0d058" stroke="#a07838" stroke-width="1.1"/>
<path d="M443.7 125.42L448.1 133.22L439.3 133.22Z" fill="rgba(220,220,240,0.6)" stroke="#b050f0" stroke-width="1.5" stroke-linejoin="miter"/>
<path d="M470.7 132.92L475.1 140.72L466.3 140.72Z" fill="rgba(220,220,240,0.6)" stroke="#b050f0" stroke-width="1.5" stroke-linejoin="miter"/>
<path d="M509.2 142.72L513.6 150.52L504.8 150.52Z" fill="rgba(220,220,240,0.6)" stroke="#b050f0" stroke-width="1.5" stroke-linejoin="miter"/>
<path d="M546.6 147.12L551 154.92L542.2 154.92Z" fill="rgba(220,220,240,0.6)" stroke="#b050f0" stroke-width="1.5" stroke-linejoin="miter"/>
<path d="M585.1 149.72L589.5 157.52L580.7 157.52Z" fill="rgba(220,220,240,0.6)" stroke="#b050f0" stroke-width="1.5" stroke-linejoin="miter"/>
<path d="M624.1 153.12L628.5 160.92L619.7 160.92Z" fill="rgba(220,220,240,0.6)" stroke="#b050f0" stroke-width="1.5" stroke-linejoin="miter"/>
<path d="M662 153.82L666.4 161.62L657.6 161.62Z" fill="rgba(220,220,240,0.6)" stroke="#b050f0" stroke-width="1.5" stroke-linejoin="miter"/>
</g>
<line x1="488.4" y1="17.8" x2="513.6" y2="17.8" stroke="#60ece4" stroke-width="1.5" />
<polygon points="501,13.46 505.37,16.64 503.7,21.78 498.3,21.78 496.63,16.64" fill="#bcfff8" stroke="#6ef0e6" stroke-width="1.4"/>
<line x1="489" y1="36" x2="512.2" y2="36" stroke="#f050a8" stroke-width="1.5" />
<rect x="497.8" y="32.8" width="6.4" height="6.4" fill="#eeee60" stroke="#f060a0" stroke-width="1.5"/>
<line x1="495.4" y1="54.8" x2="519.6" y2="54.8" stroke="#5050ec" stroke-width="1.5" />
<rect x="504.1" y="51.6" width="6.4" height="6.4" fill="#eeee60" stroke="#5a5ae0" stroke-width="1.5"/>
<line x1="495.4" y1="73.2" x2="519.6" y2="73.2" stroke="#60b8f4" stroke-width="1.5" />
<rect x="504.1" y="70" width="6.4" height="6.4" fill="#eef6ff" stroke="#6cc0f6" stroke-width="1.5"/>
<line x1="431.8" y1="181.8" x2="454.4" y2="181.8" stroke="#9a5a40" stroke-width="1.4" />
<path d="M443.1 177L447.9 181.8L443.1 186.6L438.3 181.8Z" fill="#dccb50" stroke="#a08040" stroke-width="1.3"/>
<line x1="431.8" y1="199" x2="454.4" y2="199" stroke="#b050f0" stroke-width="1.4" />
<path d="M443.1 194.5L447.1 202L439.1 202Z" fill="#d8d0f0" stroke="#b050f0" stroke-width="1.5" stroke-linejoin="miter"/>
<text x="519.2" y="22.4" font-family='"Liberation Sans", sans-serif' font-size="13" font-weight="bold" fill="#5ee6d2" textLength="148" lengthAdjust="spacingAndGlyphs" stroke="#5ee6d2" stroke-width="0.3">Multiple doped ZrNiSn<tspan font-size="8.84" dy="-4.94">47</tspan></text>
<g clip-path="url(#cb)">
<text x="516.4" y="40.6" font-family='"Liberation Sans", sans-serif' font-size="13.4" font-weight="bold" fill="#f0287a" textLength="153" lengthAdjust="spacingAndGlyphs" stroke="#f0287a" stroke-width="0.3">Zr excess doped ZrNiSn<tspan font-size="9.11" dy="-5.09">44</tspan></text>
</g>
<text x="523.4" y="59.4" font-family='"Liberation Sans", sans-serif' font-size="13" font-weight="bold" fill="#1414e6" textLength="115.8" lengthAdjust="spacingAndGlyphs" stroke="#1414e6" stroke-width="0.3">Nb doped ZrNiSn<tspan font-size="8.84" dy="-4.94">45</tspan></text>
<text x="526.2" y="77.8" font-family='"Liberation Sans", sans-serif' font-size="13" font-weight="bold" fill="#50a8f0" textLength="138.8" lengthAdjust="spacingAndGlyphs" stroke="#50a8f0" stroke-width="0.3">Hf<tspan font-size="14.5" dy="8.6">`</tspan><tspan dy="-8.6">  Ta doped ZrNiSn</tspan><tspan font-size="8.84" dy="-4.94">42</tspan></text>
<text x="458.5" y="186.3" font-family='"Liberation Sans", sans-serif' font-size="13" font-weight="bold" fill="#8b1c14" textLength="101" lengthAdjust="spacingAndGlyphs" stroke="#8b1c14" stroke-width="0.3">Hf doped ZrNiSn<tspan font-size="8.84" dy="-4.94">41</tspan></text>
<text x="458.9" y="203.5" font-family='"Liberation Sans", sans-serif' font-size="13" font-weight="bold" fill="#8b2d9b" textLength="125.6" lengthAdjust="spacingAndGlyphs" stroke="#8b2d9b" stroke-width="0.3">Hf<tspan font-size="14.5" dy="8.6">`</tspan><tspan dy="-8.6">  Pt doped ZrNiSn</tspan><tspan font-size="8.84" dy="-4.94">43</tspan></text>
<text x="598.8" y="108.1" font-family='"Liberation Sans", sans-serif' font-size="13.6" font-weight="bold" fill="#ff1010" textLength="65.3" lengthAdjust="spacingAndGlyphs"  stroke="#ff1010" stroke-width="0.3">This Work</text>
<line x1="638.3" y1="171" x2="636.6" y2="119" stroke="#ff1010" stroke-width="1.6" />
<path d="M636.4 112 L639.6 121.7 L633.2 121.7 Z" fill="#ff1010"/>
<text x="606.2" y="216.8" font-family='"Liberation Sans", sans-serif' font-size="12.5" font-style="italic" fill="#f01010" stroke="#f01010" stroke-width="0.3">κ<tspan font-size="11" dy="3.6" textLength="26" lengthAdjust="spacingAndGlyphs">L-min</tspan></text>
<rect x="424.6" y="8.6" width="247.19999999999993" height="213.0" fill="none" stroke="#000" stroke-width="2"/>
<text x="420.2" y="209.2" font-family='"Liberation Sans", sans-serif' font-size="16.6" font-weight="bold" fill="#000" text-anchor="end" textLength="8.6" lengthAdjust="spacingAndGlyphs"  stroke="#000" stroke-width="0.3">1</text>
<text x="420.2" y="176.57" font-family='"Liberation Sans", sans-serif' font-size="16.6" font-weight="bold" fill="#000" text-anchor="end" textLength="8.6" lengthAdjust="spacingAndGlyphs"  stroke="#000" stroke-width="0.3">2</text>
<text x="420.2" y="143.94" font-family='"Liberation Sans", sans-serif' font-size="16.6" font-weight="bold" fill="#000" text-anchor="end" textLength="8.6" lengthAdjust="spacingAndGlyphs"  stroke="#000" stroke-width="0.3">3</text>
<text x="420.2" y="111.31" font-family='"Liberation Sans", sans-serif' font-size="16.6" font-weight="bold" fill="#000" text-anchor="end" textLength="8.6" lengthAdjust="spacingAndGlyphs"  stroke="#000" stroke-width="0.3">4</text>
<text x="420.2" y="78.68" font-family='"Liberation Sans", sans-serif' font-size="16.6" font-weight="bold" fill="#000" text-anchor="end" textLength="8.6" lengthAdjust="spacingAndGlyphs"  stroke="#000" stroke-width="0.3">5</text>
<text x="420.2" y="46.05" font-family='"Liberation Sans", sans-serif' font-size="16.6" font-weight="bold" fill="#000" text-anchor="end" textLength="8.6" lengthAdjust="spacingAndGlyphs"  stroke="#000" stroke-width="0.3">6</text>
<text x="420.2" y="13.42" font-family='"Liberation Sans", sans-serif' font-size="16.6" font-weight="bold" fill="#000" text-anchor="end" textLength="8.6" lengthAdjust="spacingAndGlyphs"  stroke="#000" stroke-width="0.3">7</text>
<text x="443.8" y="236.2" font-family='"Liberation Sans", sans-serif' font-size="16.6" font-weight="bold" fill="#000" text-anchor="middle" textLength="25.9" lengthAdjust="spacingAndGlyphs"  stroke="#000" stroke-width="0.3">300</text>
<text x="481.6" y="236.2" font-family='"Liberation Sans", sans-serif' font-size="16.6" font-weight="bold" fill="#000" text-anchor="middle" textLength="25.9" lengthAdjust="spacingAndGlyphs"  stroke="#000" stroke-width="0.3">400</text>
<text x="519.4" y="236.2" font-family='"Liberation Sans", sans-serif' font-size="16.6" font-weight="bold" fill="#000" text-anchor="middle" textLength="25.9" lengthAdjust="spacingAndGlyphs"  stroke="#000" stroke-width="0.3">500</text>
<text x="557.2" y="236.2" font-family='"Liberation Sans", sans-serif' font-size="16.6" font-weight="bold" fill="#000" text-anchor="middle" textLength="25.9" lengthAdjust="spacingAndGlyphs"  stroke="#000" stroke-width="0.3">600</text>
<text x="595" y="236.2" font-family='"Liberation Sans", sans-serif' font-size="16.6" font-weight="bold" fill="#000" text-anchor="middle" textLength="25.9" lengthAdjust="spacingAndGlyphs"  stroke="#000" stroke-width="0.3">700</text>
<text x="632.8" y="236.2" font-family='"Liberation Sans", sans-serif' font-size="16.6" font-weight="bold" fill="#000" text-anchor="middle" textLength="25.9" lengthAdjust="spacingAndGlyphs"  stroke="#000" stroke-width="0.3">800</text>
<text x="670.6" y="236.2" font-family='"Liberation Sans", sans-serif' font-size="16.6" font-weight="bold" fill="#000" text-anchor="middle" textLength="25.9" lengthAdjust="spacingAndGlyphs"  stroke="#000" stroke-width="0.3">900</text>
<text x="527.6" y="258.9" font-family='"Liberation Sans", sans-serif' font-size="21" font-weight="bold" textLength="43.8" lengthAdjust="spacingAndGlyphs" stroke="#000" stroke-width="0.3"><tspan font-style="italic">T</tspan><tspan dx="-2"> (K)</tspan></text>
<g transform="translate(397.3,172.4) rotate(-90)"><text x="0" y="0" font-family='"Liberation Sans", sans-serif' font-size="21" font-weight="bold" textLength="115.7" lengthAdjust="spacingAndGlyphs" stroke="#000" stroke-width="0.3"><tspan font-style="italic" font-weight="normal">κ</tspan><tspan font-size="13" dy="4" font-weight="normal">L</tspan><tspan dy="-4"> (Wm</tspan><tspan font-size="13" dy="-8">-1</tspan><tspan dy="8">K</tspan><tspan font-size="13" dy="-8">-1</tspan><tspan dy="8">)</tspan></text></g>
<text x="362.6" y="32.4" font-family='"Liberation Serif", serif' font-size="36" font-weight="bold" fill="#000"  stroke="#000" stroke-width="0.3">b</text>
<rect x="87.3" y="285.8" width="264.0" height="212.89999999999998" fill="url(#gc)"/>
<line x1="87.3" y1="472.05" x2="90.3" y2="472.05" stroke="#000" stroke-width="1.6" />
<line x1="87.3" y1="445.4" x2="90.3" y2="445.4" stroke="#000" stroke-width="1.6" />
<line x1="87.3" y1="418.75" x2="90.3" y2="418.75" stroke="#000" stroke-width="1.6" />
<line x1="87.3" y1="392.1" x2="90.3" y2="392.1" stroke="#000" stroke-width="1.6" />
<line x1="87.3" y1="365.45" x2="90.3" y2="365.45" stroke="#000" stroke-width="1.6" />
<line x1="87.3" y1="338.8" x2="90.3" y2="338.8" stroke="#000" stroke-width="1.6" />
<line x1="87.3" y1="312.15" x2="90.3" y2="312.15" stroke="#000" stroke-width="1.6" />
<line x1="87.3" y1="485.38" x2="89.1" y2="485.38" stroke="#000" stroke-width="1.6" />
<line x1="87.3" y1="458.72" x2="89.1" y2="458.72" stroke="#000" stroke-width="1.6" />
<line x1="87.3" y1="432.07" x2="89.1" y2="432.07" stroke="#000" stroke-width="1.6" />
<line x1="87.3" y1="405.43" x2="89.1" y2="405.43" stroke="#000" stroke-width="1.6" />
<line x1="87.3" y1="378.77" x2="89.1" y2="378.77" stroke="#000" stroke-width="1.6" />
<line x1="87.3" y1="352.12" x2="89.1" y2="352.12" stroke="#000" stroke-width="1.6" />
<line x1="87.3" y1="325.48" x2="89.1" y2="325.48" stroke="#000" stroke-width="1.6" />
<line x1="87.3" y1="298.82" x2="89.1" y2="298.82" stroke="#000" stroke-width="1.6" />
<rect x="100.05" y="406.25" width="21.1" height="92.45" fill="none" stroke="#111111" stroke-width="2.3"/>
<rect x="126.95" y="413.85" width="21.8" height="84.85" fill="none" stroke="#b43cee" stroke-width="2.3"/>
<rect x="154.15" y="405.65" width="21.5" height="93.05" fill="none" stroke="#2424ee" stroke-width="2.3"/>
<rect x="181.05" y="390.45" width="22" height="108.25" fill="none" stroke="#7c2e90" stroke-width="2.3"/>
<rect x="207.65" y="370.45" width="22" height="128.25" fill="none" stroke="#f484d4" stroke-width="2.3"/>
<rect x="234.95" y="345.15" width="22.4" height="153.55" fill="none" stroke="#8b1a1a" stroke-width="2.3"/>
<rect x="262.15" y="330.15" width="22.4" height="168.55" fill="none" stroke="#3a6aaa" stroke-width="2.3"/>
<rect x="289.15" y="325.55" width="22.2" height="173.15" fill="none" stroke="#6ae8d4" stroke-width="2.3"/>
<rect x="316.45" y="304.25" width="21.9" height="194.45" fill="none" stroke="#f02080" stroke-width="2.3"/>
<g transform="translate(114.5,489.4) rotate(-90) scale(1.0,1)"><text x="0" y="0" font-family='"Liberation Sans", sans-serif' font-size="17" font-weight="bold" fill="#111" textLength="67.2" lengthAdjust="spacingAndGlyphs" stroke="#111" stroke-width="0.3">ZrNiSn<tspan font-size="11.8" dy="-4.3">67</tspan></text></g>
<g transform="translate(141.7,490.3) rotate(-90) scale(1.0,1)"><text x="0" y="0" font-family='"Liberation Sans", sans-serif' font-size="17" font-weight="bold" fill="#7a1e9a" textLength="90.4" lengthAdjust="spacingAndGlyphs" stroke="#7a1e9a" stroke-width="0.3">Nb<tspan font-size="11" dy="4">0.8</tspan><tspan dy="-4">CoSb</tspan><tspan font-size="11.8" dy="-4.3">49</tspan></text></g>
<g transform="translate(168.5,488.4) rotate(-90) scale(1.0,1)"><text x="0" y="0" font-family='"Liberation Sans", sans-serif' font-size="17" font-weight="bold" fill="#3030f0" textLength="83.7" lengthAdjust="spacingAndGlyphs" stroke="#3030f0" stroke-width="0.3">Nb doped<tspan font-size="11.8" dy="-4.3">45</tspan></text></g>
<g transform="translate(195,488.9) rotate(-90) scale(1.0,1)"><text x="0" y="0" font-family='"Liberation Sans", sans-serif' font-size="17" font-weight="bold" fill="#7b2d8e" textLength="110.9" lengthAdjust="spacingAndGlyphs" stroke="#7b2d8e" stroke-width="0.3">Hf<tspan font-size="19" dy="11.5">`</tspan><tspan dy="-11.5">  Pt doped</tspan><tspan font-size="11.8" dy="-4.3">43</tspan></text></g>
<g transform="translate(222.8,489.3) rotate(-90) scale(1.0,1)"><text x="0" y="0" font-family='"Liberation Sans", sans-serif' font-size="17" font-weight="bold" fill="#f0288c" textLength="82.6" lengthAdjust="spacingAndGlyphs" stroke="#f0288c" stroke-width="0.3">Zr excess<tspan font-size="11.8" dy="-4.3">44</tspan></text></g>
<g transform="translate(251.7,488.9) rotate(-90) scale(1.0,1)"><text x="0" y="0" font-family='"Liberation Sans", sans-serif' font-size="17" font-weight="bold" fill="#8b1a1a" textLength="77.8" lengthAdjust="spacingAndGlyphs" stroke="#8b1a1a" stroke-width="0.3">Hf doped<tspan font-size="11.8" dy="-4.3">41</tspan></text></g>
<g transform="translate(277.8,488.9) rotate(-90) scale(1.0,1)"><text x="0" y="0" font-family='"Liberation Sans", sans-serif' font-size="17" font-weight="bold" fill="#2a5aa0" textLength="140.6" lengthAdjust="spacingAndGlyphs" stroke="#2a5aa0" stroke-width="0.3">ZrNiSn with Al<tspan font-size="11" dy="4">2</tspan><tspan dy="-4">O</tspan><tspan font-size="11" dy="4">3</tspan><tspan font-size="11.8" dy="-8.3">25</tspan></text></g>
<g transform="translate(304.6,488.5) rotate(-90) scale(1.0,1)"><text x="0" y="0" font-family='"Liberation Sans", sans-serif' font-size="17" font-weight="bold" fill="#70d8c8" textLength="118.5" lengthAdjust="spacingAndGlyphs" stroke="#70d8c8" stroke-width="0.3">Multiple doped<tspan font-size="11.8" dy="-4.3">47</tspan></text></g>
<g transform="translate(333,488.9) rotate(-90) scale(1.0,1)"><text x="0" y="0" font-family='"Liberation Sans", sans-serif' font-size="17" font-weight="bold" fill="#f0207a" textLength="75" lengthAdjust="spacingAndGlyphs" stroke="#f0207a" stroke-width="0.3">This Work</text></g>
<path d="M109.4 305.6 L119.3 300.2 L156.8 305 L148.1 311.4 Z" fill="url(#hot)"/>
<path d="M109.4 305.6 L148.1 311.4 L148.1 318.9 L109.4 313.5 Z" fill="#e02238"/>
<path d="M148.1 311.4 L156.8 305 L156.8 312.6 L148.1 318.9 Z" fill="#c81830"/>
<rect x="116.2" y="313" width="9.7" height="25.7" fill="url(#leg)"/>
<path d="M125.9 313 L128.9 312 L128.9 336.5 L125.9 338.7 Z" fill="#b8b8c8"/>
<rect x="136.1" y="318" width="10" height="24.3" fill="url(#leg)"/>
<path d="M146.1 318 L149.3 316 L149.3 340 L146.1 342.3 Z" fill="#b8b8c8"/>
<path d="M107.5 339.3 L115.6 334.5 L156.8 339.3 L148.1 344.8 Z" fill="#5aa0ec" opacity="0.9"/>
<path d="M107.5 339.3 L148.1 344.8 L146.9 352.6 L107.5 346.6 Z" fill="#4a94f2"/>
<path d="M148.1 344.8 L156.8 339.3 L156.8 346.6 L146.9 352.6 Z" fill="#70d4ff"/>
<text x="163.5" y="307.1" font-family='"Liberation Sans", sans-serif' font-size="12.5" font-weight="bold" fill="#f01c1c" textLength="59.2" lengthAdjust="spacingAndGlyphs" stroke="#f01c1c" stroke-width="0.3">T<tspan font-size="9" dy="3">hot</tspan><tspan dy="-3">=873K</tspan></text>
<text x="163.5" y="348.8" font-family='"Liberation Sans", sans-serif' font-size="12.5" font-weight="bold" fill="#3a7ad0" textLength="63.3" lengthAdjust="spacingAndGlyphs" stroke="#3a7ad0" stroke-width="0.3">T<tspan font-size="9" dy="3">cold</tspan><tspan dy="-3">=300K</tspan></text>
<path d="M351.3 285.8 L87.3 285.8 L87.3 498.7 L351.3 498.7 Z" fill="none" stroke="#000" stroke-width="2.2"/>
<text x="82.6" y="503.3" font-family='"Liberation Sans", sans-serif' font-size="13.3" font-weight="bold" fill="#000" text-anchor="end" textLength="18.2" lengthAdjust="spacingAndGlyphs"  stroke="#000" stroke-width="0.3">0.0</text>
<text x="82.6" y="476.65" font-family='"Liberation Sans", sans-serif' font-size="13.3" font-weight="bold" fill="#000" text-anchor="end" textLength="18.2" lengthAdjust="spacingAndGlyphs"  stroke="#000" stroke-width="0.3">0.1</text>
<text x="82.6" y="450" font-family='"Liberation Sans", sans-serif' font-size="13.3" font-weight="bold" fill="#000" text-anchor="end" textLength="18.2" lengthAdjust="spacingAndGlyphs"  stroke="#000" stroke-width="0.3">0.2</text>
<text x="82.6" y="423.35" font-family='"Liberation Sans", sans-serif' font-size="13.3" font-weight="bold" fill="#000" text-anchor="end" textLength="18.2" lengthAdjust="spacingAndGlyphs"  stroke="#000" stroke-width="0.3">0.3</text>
<text x="82.6" y="396.7" font-family='"Liberation Sans", sans-serif' font-size="13.3" font-weight="bold" fill="#000" text-anchor="end" textLength="18.2" lengthAdjust="spacingAndGlyphs"  stroke="#000" stroke-width="0.3">0.4</text>
<text x="82.6" y="370.05" font-family='"Liberation Sans", sans-serif' font-size="13.3" font-weight="bold" fill="#000" text-anchor="end" textLength="18.2" lengthAdjust="spacingAndGlyphs"  stroke="#000" stroke-width="0.3">0.5</text>
<text x="82.6" y="343.4" font-family='"Liberation Sans", sans-serif' font-size="13.3" font-weight="bold" fill="#000" text-anchor="end" textLength="18.2" lengthAdjust="spacingAndGlyphs"  stroke="#000" stroke-width="0.3">0.6</text>
<text x="82.6" y="316.75" font-family='"Liberation Sans", sans-serif' font-size="13.3" font-weight="bold" fill="#000" text-anchor="end" textLength="18.2" lengthAdjust="spacingAndGlyphs"  stroke="#000" stroke-width="0.3">0.7</text>
<text x="82.6" y="290.1" font-family='"Liberation Sans", sans-serif' font-size="13.3" font-weight="bold" fill="#000" text-anchor="end" textLength="18.2" lengthAdjust="spacingAndGlyphs"  stroke="#000" stroke-width="0.3">0.8</text>
<g transform="translate(54.4,483.3) rotate(-90)"><text x="0" y="0" font-family='"Liberation Sans", sans-serif' font-size="18.5" font-weight="bold" textLength="185" lengthAdjust="spacingAndGlyphs" stroke="#000" stroke-width="0.3">Average <tspan font-style="italic">zT</tspan><tspan font-size="12" dy="4">avg</tspan><tspan dy="-4"> values</tspan></text></g>
<text x="6.5" y="291.9" font-family='"Liberation Serif", serif' font-size="36" font-weight="bold" fill="#000"  stroke="#000" stroke-width="0.3">c</text>
<rect x="432.3" y="279.9" width="246.7" height="211.90000000000003" fill="url(#gd)"/>
<line x1="432.3" y1="477.3" x2="436.8" y2="477.3" stroke="#000" stroke-width="2" />
<line x1="679" y1="477.3" x2="674.5" y2="477.3" stroke="#000" stroke-width="2" />
<line x1="432.3" y1="449.15" x2="436.8" y2="449.15" stroke="#000" stroke-width="2" />
<line x1="679" y1="449.15" x2="674.5" y2="449.15" stroke="#000" stroke-width="2" />
<line x1="432.3" y1="421" x2="436.8" y2="421" stroke="#000" stroke-width="2" />
<line x1="679" y1="421" x2="674.5" y2="421" stroke="#000" stroke-width="2" />
<line x1="432.3" y1="392.85" x2="436.8" y2="392.85" stroke="#000" stroke-width="2" />
<line x1="679" y1="392.85" x2="674.5" y2="392.85" stroke="#000" stroke-width="2" />
<line x1="432.3" y1="364.7" x2="436.8" y2="364.7" stroke="#000" stroke-width="2" />
<line x1="679" y1="364.7" x2="674.5" y2="364.7" stroke="#000" stroke-width="2" />
<line x1="432.3" y1="336.55" x2="436.8" y2="336.55" stroke="#000" stroke-width="2" />
<line x1="679" y1="336.55" x2="674.5" y2="336.55" stroke="#000" stroke-width="2" />
<line x1="432.3" y1="308.4" x2="436.8" y2="308.4" stroke="#000" stroke-width="2" />
<line x1="679" y1="308.4" x2="674.5" y2="308.4" stroke="#000" stroke-width="2" />
<line x1="432.3" y1="491.38" x2="434.5" y2="491.38" stroke="#000" stroke-width="2" />
<line x1="679" y1="491.38" x2="676.8" y2="491.38" stroke="#000" stroke-width="2" />
<line x1="432.3" y1="463.23" x2="434.5" y2="463.23" stroke="#000" stroke-width="2" />
<line x1="679" y1="463.23" x2="676.8" y2="463.23" stroke="#000" stroke-width="2" />
<line x1="432.3" y1="435.07" x2="434.5" y2="435.07" stroke="#000" stroke-width="2" />
<line x1="679" y1="435.07" x2="676.8" y2="435.07" stroke="#000" stroke-width="2" />
<line x1="432.3" y1="406.93" x2="434.5" y2="406.93" stroke="#000" stroke-width="2" />
<line x1="679" y1="406.93" x2="676.8" y2="406.93" stroke="#000" stroke-width="2" />
<line x1="432.3" y1="378.78" x2="434.5" y2="378.78" stroke="#000" stroke-width="2" />
<line x1="679" y1="378.78" x2="676.8" y2="378.78" stroke="#000" stroke-width="2" />
<line x1="432.3" y1="350.62" x2="434.5" y2="350.62" stroke="#000" stroke-width="2" />
<line x1="679" y1="350.62" x2="676.8" y2="350.62" stroke="#000" stroke-width="2" />
<line x1="432.3" y1="322.48" x2="434.5" y2="322.48" stroke="#000" stroke-width="2" />
<line x1="679" y1="322.48" x2="676.8" y2="322.48" stroke="#000" stroke-width="2" />
<line x1="432.3" y1="294.33" x2="434.5" y2="294.33" stroke="#000" stroke-width="2" />
<line x1="679" y1="294.33" x2="676.8" y2="294.33" stroke="#000" stroke-width="2" />
<line x1="432.1" y1="491.8" x2="432.1" y2="487.3" stroke="#000" stroke-width="2" />
<line x1="484.05" y1="491.8" x2="484.05" y2="487.3" stroke="#000" stroke-width="2" />
<line x1="536" y1="491.8" x2="536" y2="487.3" stroke="#000" stroke-width="2" />
<line x1="587.95" y1="491.8" x2="587.95" y2="487.3" stroke="#000" stroke-width="2" />
<line x1="639.9" y1="491.8" x2="639.9" y2="487.3" stroke="#000" stroke-width="2" />
<line x1="458.08" y1="491.8" x2="458.08" y2="489.6" stroke="#000" stroke-width="2" />
<line x1="510.03" y1="491.8" x2="510.03" y2="489.6" stroke="#000" stroke-width="2" />
<line x1="561.98" y1="491.8" x2="561.98" y2="489.6" stroke="#000" stroke-width="2" />
<line x1="613.93" y1="491.8" x2="613.93" y2="489.6" stroke="#000" stroke-width="2" />
<line x1="665.88" y1="491.8" x2="665.88" y2="489.6" stroke="#000" stroke-width="2" />
<g clip-path="url(#cd)">
<path d="M487.6 449.1 L587.8 386.7 L577.8 371.1 L638.9 376 L617.8 434.4 L607.8 418.9 L506.8 480.7 Z" fill="#f0c4d0" opacity="0.45" filter="url(#blur)" transform="translate(-1,-1)"/>
<path d="M487.6 449.1 L587.8 386.7 L577.8 371.1 L638.9 376 L617.8 434.4 L607.8 418.9 L506.8 480.7 Z" fill="url(#arw)" filter="url(#soft)"/>
</g>
<rect x="434.8" y="283.9" width="10.2" height="10.2" fill="#000" stroke="#000" stroke-width="0.1"/>
<rect x="435.4" y="305.3" width="9" height="9" fill="#f0f020" stroke="#5aa8f0" stroke-width="1.8"/>
<circle cx="439" cy="331.9" r="4.7" fill="#c8e2f8" stroke="#1818e0" stroke-width="2.2"/>
<polygon points="439.6,347.16 444.93,351.03 442.89,357.29 436.31,357.29 434.27,351.03" fill="#b0f0e8" stroke="#70e0d0" stroke-width="1.6"/>
<path d="M439.6 365L445.2 370.6L439.6 376.2L434 370.6Z" fill="#f0e020" stroke="#901010" stroke-width="1.6"/>
<rect x="517" y="284.5" width="9" height="9" fill="#f0e060" stroke="#f03070" stroke-width="1.8"/>
<path d="M551.8 303L558.1 314L545.5 314Z" fill="#b0a8e8" stroke="#8b2a8e" stroke-width="1.9" stroke-linejoin="miter"/>
<rect x="549.45" y="327.05" width="8.3" height="8.3" fill="#ffffff" stroke="#58a8f0" stroke-width="1.9"/>
<circle cx="583.5" cy="352.8" r="4.75" fill="#ffffff" stroke="#f01010" stroke-width="2.6"/>
<text x="452.3" y="293.5" font-family='"Liberation Sans", sans-serif' font-size="11" font-weight="bold" fill="#000" stroke="#000" stroke-width="0.1" textLength="38.9" lengthAdjust="spacingAndGlyphs">ZrNiSn<tspan font-size="8" dy="-4.2">67</tspan></text>
<text x="452.3" y="314.4" font-family='"Liberation Sans", sans-serif' font-size="11" font-weight="bold" fill="#1818f0" stroke="#1818f0" stroke-width="0.1" textLength="86.9" lengthAdjust="spacingAndGlyphs">Nb doped ZrNiSn<tspan font-size="8" dy="-4.2">45</tspan></text>
<text x="452.3" y="335.8" font-family='"Liberation Sans", sans-serif' font-size="11" font-weight="bold" fill="#3a70b0" stroke="#3a70b0" stroke-width="0.1" textLength="88.5" lengthAdjust="spacingAndGlyphs">ZrNiSn with Al<tspan font-size="8.5" dy="3">2</tspan><tspan dy="-3">O</tspan><tspan font-size="8.5" dy="3">3</tspan><tspan font-size="8" dy="-9.5">25</tspan></text>
<text x="452.3" y="357.6" font-family='"Liberation Sans", sans-serif' font-size="11" font-weight="bold" fill="#70e0d0" stroke="#70e0d0" stroke-width="0.1" textLength="110.8" lengthAdjust="spacingAndGlyphs">Multiple doped ZrNiSn<tspan font-size="8" dy="-4.2">47</tspan></text>
<text x="452.3" y="375.1" font-family='"Liberation Sans", sans-serif' font-size="11" font-weight="bold" fill="#8b1a1a" stroke="#8b1a1a" stroke-width="0.1" textLength="83.6" lengthAdjust="spacingAndGlyphs">Hf doped ZrNiSn<tspan font-size="8" dy="-4.2">41</tspan></text>
<text x="533.5" y="293.4" font-family='"Liberation Sans", sans-serif' font-size="11" font-weight="bold" fill="#f0389a" stroke="#f0389a" stroke-width="0.1" textLength="116.5" lengthAdjust="spacingAndGlyphs">Zr excess doped ZrNiSn<tspan font-size="8" dy="-4.2">44</tspan></text>
<text x="564.2" y="313.9" font-family='"Liberation Sans", sans-serif' font-size="11" font-weight="bold" fill="#8b2020" stroke="#8b2020" stroke-width="0.1" textLength="103.7" lengthAdjust="spacingAndGlyphs">Hf<tspan font-size="12.5" dy="7.6">`</tspan><tspan dy="-7.6">  Pt doped ZrNiSn</tspan><tspan font-size="8" dy="-4.2">43</tspan></text>
<text x="565.7" y="336.2" font-family='"Liberation Sans", sans-serif' font-size="11" font-weight="bold" fill="#58a8f0" stroke="#58a8f0" stroke-width="0.1" textLength="105.3" lengthAdjust="spacingAndGlyphs">Hf<tspan font-size="12.5" dy="7.6">`</tspan><tspan dy="-7.6">  Ta doped ZrNiSn</tspan><tspan font-size="8" dy="-4.2">42</tspan></text>
<text x="600.7" y="357.3" font-family='"Liberation Sans", sans-serif' font-size="11" font-weight="bold" fill="#f01010" stroke="#f01010" stroke-width="0.1" textLength="44.2" lengthAdjust="spacingAndGlyphs">This work</text>
<text x="449.9" y="398.9" font-family='"Liberation Sans", sans-serif' font-size="16" font-weight="bold" fill="#f0288c" textLength="79.5" lengthAdjust="spacingAndGlyphs"  stroke="#f0288c" stroke-width="0.3">300-873 K</text>
<rect x="451.6" y="476.3" width="12" height="12" fill="#000" stroke="#000" stroke-width="0.1"/>
<rect x="444.2" y="459.4" width="10" height="10" fill="#f0f020" stroke="#50a8f0" stroke-width="2"/>
<path d="M491.4 468.7L499.15 481.2L483.65 481.2Z" fill="#b8b0f0" stroke="#8b2a8e" stroke-width="2" stroke-linejoin="miter"/>
<rect x="523.65" y="417.85" width="10.5" height="10.5" fill="#ecd870" stroke="#f03080" stroke-width="2"/>
<rect x="572.8" y="445" width="10" height="10" fill="#fbf8fc" stroke="#50a8f0" stroke-width="2"/>
<circle cx="606" cy="387.1" r="5.8" fill="#d0d0c8" stroke="#6050b0" stroke-width="2.4"/>
<polygon points="614.4,394.3 621.06,399.14 618.51,406.96 610.29,406.96 607.74,399.14" fill="#d4e4cc" stroke="#70d0b0" stroke-width="2"/>
<path d="M628.2 382.7L636.2 390.7L628.2 398.7L620.2 390.7Z" fill="#f0d868" stroke="#a03020" stroke-width="2"/>
<circle cx="656.7" cy="367.8" r="5.7" fill="#ffffff" stroke="#f01010" stroke-width="2.2"/>
<rect x="432.3" y="279.9" width="246.7" height="211.90000000000003" fill="none" stroke="#000" stroke-width="2"/>
<text x="427" y="479.8" font-family='"Liberation Sans", sans-serif' font-size="15" font-weight="bold" fill="#000" text-anchor="end" textLength="16.2" lengthAdjust="spacingAndGlyphs"  stroke="#000" stroke-width="0.3">30</text>
<text x="427" y="451.65" font-family='"Liberation Sans", sans-serif' font-size="15" font-weight="bold" fill="#000" text-anchor="end" textLength="16.2" lengthAdjust="spacingAndGlyphs"  stroke="#000" stroke-width="0.3">35</text>
<text x="427" y="423.5" font-family='"Liberation Sans", sans-serif' font-size="15" font-weight="bold" fill="#000" text-anchor="end" textLength="16.2" lengthAdjust="spacingAndGlyphs"  stroke="#000" stroke-width="0.3">40</text>
<text x="427" y="395.35" font-family='"Liberation Sans", sans-serif' font-size="15" font-weight="bold" fill="#000" text-anchor="end" textLength="16.2" lengthAdjust="spacingAndGlyphs"  stroke="#000" stroke-width="0.3">45</text>
<text x="427" y="367.2" font-family='"Liberation Sans", sans-serif' font-size="15" font-weight="bold" fill="#000" text-anchor="end" textLength="16.2" lengthAdjust="spacingAndGlyphs"  stroke="#000" stroke-width="0.3">50</text>
<text x="427" y="339.05" font-family='"Liberation Sans", sans-serif' font-size="15" font-weight="bold" fill="#000" text-anchor="end" textLength="16.2" lengthAdjust="spacingAndGlyphs"  stroke="#000" stroke-width="0.3">55</text>
<text x="427" y="310.9" font-family='"Liberation Sans", sans-serif' font-size="15" font-weight="bold" fill="#000" text-anchor="end" textLength="16.2" lengthAdjust="spacingAndGlyphs"  stroke="#000" stroke-width="0.3">60</text>
<text x="427" y="282.75" font-family='"Liberation Sans", sans-serif' font-size="15" font-weight="bold" fill="#000" text-anchor="end" textLength="16.2" lengthAdjust="spacingAndGlyphs"  stroke="#000" stroke-width="0.3">65</text>
<text x="432.1" y="507.7" font-family='"Liberation Sans", sans-serif' font-size="14" font-weight="bold" fill="#000" text-anchor="middle"  stroke="#000" stroke-width="0.3">0.3</text>
<text x="484.05" y="507.7" font-family='"Liberation Sans", sans-serif' font-size="14" font-weight="bold" fill="#000" text-anchor="middle"  stroke="#000" stroke-width="0.3">0.4</text>
<text x="536" y="507.7" font-family='"Liberation Sans", sans-serif' font-size="14" font-weight="bold" fill="#000" text-anchor="middle"  stroke="#000" stroke-width="0.3">0.5</text>
<text x="587.95" y="507.7" font-family='"Liberation Sans", sans-serif' font-size="14" font-weight="bold" fill="#000" text-anchor="middle"  stroke="#000" stroke-width="0.3">0.6</text>
<text x="639.9" y="507.7" font-family='"Liberation Sans", sans-serif' font-size="14" font-weight="bold" fill="#000" text-anchor="middle"  stroke="#000" stroke-width="0.3">0.7</text>
<text x="533.3" y="529.4" font-family='"Liberation Sans", sans-serif' font-size="20" font-weight="bold" stroke="#000" stroke-width="0.3"><tspan font-style="italic">zT</tspan><tspan font-size="14" dy="6.3">avg</tspan></text>
<g transform="translate(398.9,474) rotate(-90)" font-family='"Liberation Sans", sans-serif' font-weight="bold"><text x="0" y="0" font-size="21" font-style="italic" textLength="27.5" lengthAdjust="spacingAndGlyphs" stroke="#000" stroke-width="0.3">PF</text><text x="20.7" y="7.2" font-size="13.5" textLength="25.9" lengthAdjust="spacingAndGlyphs" stroke="#000" stroke-width="0.3">avg</text><text x="59" y="0" font-size="17" textLength="119.4" lengthAdjust="spacingAndGlyphs" stroke="#000" stroke-width="0.3">(μWcm<tspan font-size="11" dy="-7">-1</tspan><tspan dy="7">K</tspan><tspan font-size="11" dy="-7">-2</tspan><tspan dy="7">)</tspan></text></g>
<text x="356.5" y="291.9" font-family='"Liberation Serif", serif' font-size="36" font-weight="bold" fill="#000"  stroke="#000" stroke-width="0.3">d</text>
</svg>
</body></html>
